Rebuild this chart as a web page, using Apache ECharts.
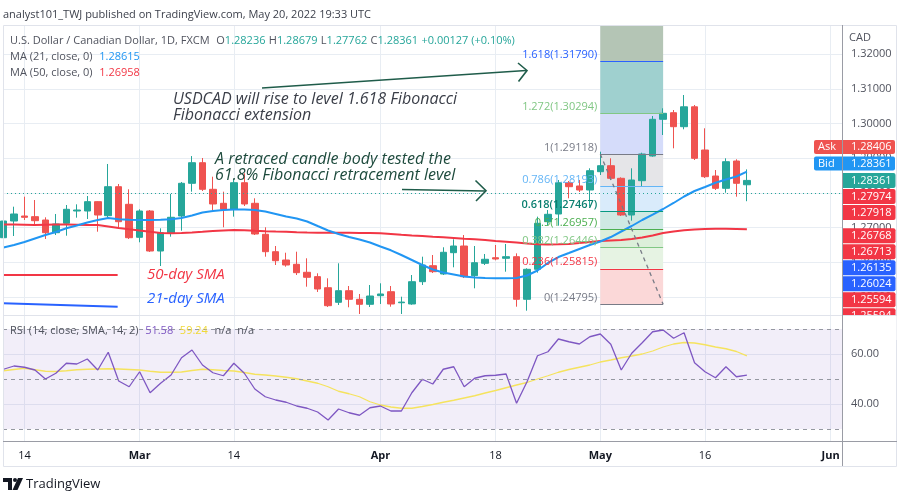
<!DOCTYPE html>
<html><head><meta charset="utf-8">
<script src="https://cdn.jsdelivr.net/npm/echarts@6/dist/echarts.min.js"></script>
<style>html,body{margin:0;padding:0;background:#fff}#c{width:900px;height:500px}</style>
</head><body><div id="c"></div>
<script>
// ---------------- DATA ----------------
const dates = ['Feb 10','Feb 11','Feb 14','Feb 15','Feb 16','Feb 17','Feb 18','Feb 21','Feb 22','Feb 23','Feb 24','Feb 25','Feb 28',
'Mar 1','Mar 2','Mar 3','Mar 4','Mar 7','Mar 8','Mar 9','Mar 10','Mar 11','Mar 14','Mar 15','Mar 16','Mar 17','Mar 18','Mar 21','Mar 22','Mar 23','Mar 24','Mar 25','Mar 28','Mar 29','Mar 30','Mar 31',
'Apr 1','Apr 4','Apr 5','Apr 6','Apr 7','Apr 8','Apr 11','Apr 12','Apr 13','Apr 14','Apr 15','Apr 18','Apr 19','Apr 20','Apr 21','Apr 22','Apr 25','Apr 26','Apr 27','Apr 28','Apr 29',
'May 2','May 3','May 4','May 5','May 6','May 9','May 10','May 11','May 12','May 13','May 16','May 17','May 18','May 19','May 20','May 23','May 24','May 25','May 26','May 27','May 30','May 31','Jun 1','Jun 2'];

// [open, high, low, close]
const ohlc = [
[1.26711,1.27336,1.26415,1.27192],[1.27192,1.27604,1.26760,1.27394],[1.27336,1.27892,1.27221,1.27298],[1.27317,1.27797,1.27077,1.27201],
[1.27221,1.27298,1.26674,1.26855],[1.26855,1.27394,1.26789,1.27106],[1.27126,1.27653,1.26769,1.27529],[1.27480,1.27672,1.27288,1.27509],
[1.27480,1.27912,1.27250,1.27749],[1.27749,1.27760,1.26884,1.27365],[1.27345,1.28834,1.27288,1.28180],[1.28180,1.28258,1.27011,1.27172],
[1.27673,1.28105,1.26674,1.26711],[1.26723,1.27529,1.26579,1.27480],[1.27480,1.27509,1.26300,1.26328],[1.26328,1.26982,1.25896,1.26855],
[1.26838,1.27970,1.26740,1.27299],[1.27336,1.28315,1.26913,1.28278],[1.28278,1.29062,1.28036,1.28871],[1.28871,1.29007,1.28056,1.28105],
[1.28105,1.28468,1.27509,1.27682],[1.27702,1.28036,1.27011,1.27529],[1.27529,1.28393,1.27317,1.28295],[1.28295,1.28566,1.27624,1.27682],
[1.27702,1.27846,1.26789,1.26818],[1.26809,1.27011,1.26164,1.26308],[1.26308,1.26472,1.25925,1.26049],[1.26069,1.26279,1.25876,1.25925],
[1.25945,1.26308,1.25637,1.25704],[1.25715,1.26118,1.25300,1.25571],[1.25590,1.25686,1.25148,1.25234],[1.25271,1.25542,1.24716,1.24753],
[1.24851,1.25974,1.24773,1.25185],[1.25185,1.25320,1.24707,1.24937],[1.24937,1.25090,1.24514,1.24793],[1.24793,1.25349,1.24716,1.25032],
[1.25041,1.25398,1.24802,1.25090],[1.25156,1.25320,1.24724,1.24802],[1.24838,1.25012,1.24514,1.24857],[1.24802,1.25637,1.24780,1.25444],
[1.25444,1.26164,1.25349,1.25925],[1.25905,1.26213,1.25694,1.25732],[1.25666,1.26435,1.25637,1.26291],[1.26280,1.26665,1.25859,1.26472],
[1.26472,1.26789,1.25550,1.25588],[1.25617,1.26472,1.25254,1.25991],[1.25974,1.26242,1.25925,1.26090],[1.26135,1.26501,1.26060,1.26098],
[1.26118,1.26530,1.25732,1.26164],[1.26164,1.26261,1.24724,1.24937],[1.24937,1.25830,1.24609,1.25801],[1.25801,1.27317,1.25704,1.27126],
[1.27172,1.27509,1.27077,1.27385],[1.27394,1.28373,1.27057,1.28295],[1.28295,1.28344,1.27846,1.28180],[1.28201,1.28373,1.28027,1.28085],
[1.28085,1.28710,1.27604,1.28641],[1.28612,1.29188,1.28517,1.28785],[1.28785,1.28998,1.28373,1.28422],[1.28422,1.28450,1.27336,1.27365],
[1.27365,1.28710,1.27201,1.28373],[1.28353,1.29159,1.28200,1.29122],[1.29064,1.30216,1.29044,1.30121],[1.30121,1.30438,1.29669,1.30294],
[1.30311,1.30389,1.29286,1.29908],[1.29908,1.30821,1.29833,1.30481],[1.30481,1.30533,1.28949,1.28998],[1.29237,1.29862,1.28431,1.28468],
[1.28488,1.28661,1.28085,1.28134],[1.28134,1.28998,1.28007,1.28900],[1.28920,1.28969,1.27892,1.28278],[1.28236,1.28679,1.27762,1.28361]];

const ma21 = [1.26429,1.26501,1.26587,1.26688,1.26789,1.26875,1.26982,1.27063,1.27149,1.27221,
1.27279,1.27241,1.27227,1.27221,1.27221,1.27227,1.27241,1.27279,1.27351,1.27437,
1.27480,1.27509,1.27523,1.27523,1.27509,1.27466,1.27394,1.27322,1.27264,1.27178,
1.27048,1.26919,1.26818,1.26731,1.26659,1.26573,1.26458,1.26348,1.26213,1.26069,
1.25925,1.25795,1.25709,1.25651,1.25593,1.25565,1.25550,1.25542,1.25542,1.25550,
1.25622,1.25767,1.25983,1.26155,1.26270,1.26386,1.26501,1.26602,1.26731,1.26890,
1.27048,1.27221,1.27379,1.27538,1.27711,1.27898,1.28056,1.28171,1.28295,1.28388,
1.28474,1.28615];

const ma50 = [1.27092,1.27089,1.27083,1.27077,1.27083,1.27089,1.27092,1.27086,1.27077,1.27077,
1.27034,1.26991,1.26953,1.26919,1.26881,1.26847,1.26838,1.26847,1.26861,1.26881,
1.26904,1.26919,1.26933,1.26925,1.26910,1.26898,1.26890,1.26884,1.26867,1.26858,
1.26855,1.26855,1.26855,1.26852,1.26849,1.26847,1.26838,1.26818,1.26795,1.26775,
1.26761,1.26740,1.26723,1.26703,1.26683,1.26665,1.26645,1.26616,1.26596,1.26573,
1.26544,1.26521,1.26515,1.26521,1.26530,1.26558,1.26587,1.26616,1.26631,1.26645,
1.26674,1.26717,1.26775,1.26847,1.26890,1.26925,1.26947,1.26962,1.26968,1.26968,
1.26965,1.26958];

const rsi = [53.9,55.2,54.7,53.6,50.0,52.3,56.3,56.0,58.0,53.6,
60.7,49.2,46.9,52.9,44.5,48.3,51.6,58.5,61.6,55.6,
52.5,51.3,56.3,52.3,46.0,42.9,41.6,40.7,39.2,38.3,
36.8,33.6,38.0,36.5,35.5,38.5,39.2,37.2,37.2,44.5,
49.9,48.0,53.9,54.9,46.9,50.3,51.3,51.5,52.0,40.3,
48.9,59.3,60.9,66.0,64.9,64.0,66.9,68.0,63.9,53.6,
60.3,64.5,68.9,69.6,66.3,68.5,56.5,52.9,50.5,54.9,
50.9,51.58];

const rsiMa = [53.3,53.8,54.3,53.7,53.1,53.0,53.3,53.7,53.9,54.0,
54.1,54.0,53.8,53.6,53.1,52.7,52.7,52.8,53.4,53.9,
53.7,53.4,53.2,52.6,51.9,51.6,51.2,50.7,50.1,49.2,
48.3,46.9,45.1,44.1,42.9,40.9,39.6,38.8,38.3,38.3,
39.0,39.8,40.7,41.5,42.4,43.3,44.4,45.4,46.5,47.6,
48.6,50.0,51.3,52.7,53.8,54.7,55.6,56.8,57.6,58.5,
59.2,60.0,61.2,62.8,64.0,64.6,64.4,63.7,62.8,62.1,
61.0,59.24];

const tickDates = ['Feb 14','Mar 1','Mar 14','Apr 1','Apr 18','May 2','May 16','Jun 1'];
const tickTexts = ['14','Mar','14','Apr','18','May','16','Jun'];
const priceTicks = [1.25,1.26,1.27,1.28,1.29,1.30,1.31,1.32];
const rsiTicks = [40,60];
const rsiLevels = [70,50,30];

const fibRatios = ['0','0.236','0.382','0.5','0.618','0.786','1','1.272','1.618'];
const fibPrices = [1.24795,1.25815,1.26446,1.26957,1.27467,1.28193,1.29118,1.30294,1.31790];
const fibFrom = 'May 2', fibTo = 'May 10';

const lastPrice = 1.28361, askPrice = 1.28406, bidPrice = 1.28361;
const tagValues = [1.27974,1.27918,1.26768,1.26713,1.26135,1.26024,1.25594,1.25594];
const tagKinds  = ['red','red','red','red','blue','blue','red','red'];

const maLegend = {ma21:'1.28615', ma50:'1.26958'};
const header = {o:'1.28236', h:'1.28679', l:'1.27762', c:'1.28361', chg:'+0.00127 (+0.10%)'};
const rsiLegend = {rsi:'51.58', ma:'59.24'};

// ---------------- STYLE / LAYOUT ----------------
const FONT = "'Open Sans', 'Noto Sans', sans-serif";
const gridColor = '#e8edf3';
const UP = '#26a69a', DOWN = '#ef5350';
const X0 = -0.05, X1 = 80.18;
const Y0 = 1.24485, Y1 = 1.32837;
const fibColors = ['#787b86','#f23645','#81c784','#4caf50','#089981','#64b5f6','#787b86','#81c784','#2962ff'];
const bandColors = ['#fbd8d8','#e6f3e3','#dcefda','#cfe9e3','#d9ebfb','#e5e5e8','#d5dcfa','#9fd0cf','#b4c5b5'];

const idx = d => dates.indexOf(d);
const tickIdx = tickDates.map(idx);
const fx0 = idx(fibFrom), fx1 = idx(fibTo);

const xFmt = v => {
  const k = tickIdx.indexOf(Math.round(v));
  if (k < 0) return '';
  const t = tickTexts[k];
  return /^\d+$/.test(t) ? t : '{m|' + t + '}';
};

const fibLines = fibPrices.map((p, k) => [
  {coord:[fx0, p], lineStyle:{color:fibColors[k], width:1, type:'solid'}},
  {coord:[fx1, p]}
]);
const fibBands = fibPrices.map((p, k) => [
  {coord:[fx0, p], itemStyle:{color:bandColors[k]}},
  {coord:[fx1, k < fibPrices.length - 1 ? fibPrices[k+1] : Y1]}
]);

const chart = echarts.init(document.getElementById('c'));

const option = {
  animation:false,
  backgroundColor:'#ffffff',
  textStyle:{fontFamily:FONT},
  grid:[{left:3, top:25, width:840, height:290},{left:3, top:315, width:840, height:126}],
  xAxis:[
    {type:'value', gridIndex:0, min:X0, max:X1, axisLine:{show:false},
     axisLabel:{show:false}, axisTick:{show:false, customValues:tickIdx},
     splitLine:{show:true, lineStyle:{color:gridColor, width:1}}},
    {type:'value', gridIndex:1, min:X0, max:X1, axisLine:{show:false},
     axisTick:{show:false, customValues:tickIdx},
     axisLabel:{customValues:tickIdx, formatter:xFmt, color:'#131722', fontSize:11, margin:9, fontFamily:FONT,
       rich:{m:{fontWeight:'bold', fontSize:11, color:'#131722', fontFamily:FONT}}},
     splitLine:{show:true, lineStyle:{color:gridColor, width:1}}}
  ],
  yAxis:[
    {type:'value', gridIndex:0, position:'right', min:Y0, max:Y1, scale:true,
     axisLine:{show:false}, axisTick:{show:false, customValues:priceTicks},
     axisLabel:{customValues:priceTicks, formatter:v => v.toFixed(5), color:'#50535e', fontSize:11, margin:8, fontFamily:FONT},
     splitLine:{show:true, lineStyle:{color:gridColor, width:1}}},
    {type:'value', gridIndex:1, position:'right', min:25.2, max:75.6,
     axisLine:{show:false}, axisTick:{show:false, customValues:rsiTicks},
     axisLabel:{customValues:rsiTicks, formatter:v => v.toFixed(2), color:'#50535e', fontSize:11, margin:8, fontFamily:FONT},
     splitLine:{show:true, lineStyle:{color:gridColor, width:1}}}
  ],
  series:[
    {type:'candlestick', xAxisIndex:0, yAxisIndex:0, barWidth:7,
     data: ohlc.map((r, i) => [i, r[0], r[3], r[2], r[1]]),
     encode:{x:0, y:[1,2,3,4]},
     itemStyle:{color:UP, color0:DOWN, borderColor:UP, borderColor0:DOWN, borderWidth:1},
     markArea:{silent:true, data:fibBands},
     markLine:{silent:true, symbol:['none','none'], label:{show:false}, animation:false,
       data:[
         {yAxis:lastPrice, lineStyle:{color:UP, type:[1,3], width:1}},
         ...fibLines,
         [{coord:[fx0, fibPrices[6]], lineStyle:{color:'#787b86', type:[4,4], width:1.3}}, {coord:[fx1, fibPrices[0]]}],
         [{coord:[X0, 1.25637], lineStyle:{color:'#f23645', type:'solid', width:2}}, {coord:[10.9, 1.25637]}],
         [{coord:[X0, 1.24822], lineStyle:{color:'#2962ff', type:'solid', width:2}}, {coord:[10.9, 1.24724]}]
       ]}
    },
    {type:'line', xAxisIndex:0, yAxisIndex:0, data:ma50.map((v,i)=>[i,v]), showSymbol:false,
     lineStyle:{color:'#f23645', width:2}, z:3},
    {type:'line', xAxisIndex:0, yAxisIndex:0, data:ma21.map((v,i)=>[i,v]), showSymbol:false,
     lineStyle:{color:'#2196f3', width:2}, z:3},
    {type:'line', xAxisIndex:1, yAxisIndex:1, data:rsiMa.map((v,i)=>[i,v]), showSymbol:false,
     lineStyle:{color:'#f5e35e', width:1.3}, z:3},
    {type:'line', xAxisIndex:1, yAxisIndex:1, data:rsi.map((v,i)=>[i,v]), showSymbol:false,
     lineStyle:{color:'#7e57c2', width:1.3}, z:4,
     markArea:{silent:true, itemStyle:{color:'rgba(126,87,194,0.1)'}, data:[[{yAxis:rsiLevels[0]},{yAxis:rsiLevels[2]}]]},
     markLine:{silent:true, symbol:['none','none'], label:{show:false},
       lineStyle:{color:'#9598a1', type:[4,4], width:1},
       data:rsiLevels.map(v => ({yAxis:v}))}
    }
  ]
};
chart.setOption(option);

// ---------------- OVERLAYS ----------------
const P = (x, y) => chart.convertToPixel({xAxisIndex:0, yAxisIndex:0}, [x, y]);
const g = [];
const txt = (x, y, text, fill, size, extra) => g.push(Object.assign({type:'text', z:50, silent:true,
  style:Object.assign({x, y, text, fill, font:`${size}px ${FONT}`, textVerticalAlign:'middle'}, extra || {})}));

// frame
g.push({type:'rect', z:40, silent:true, shape:{x:3.5, y:25.5, width:893, height:441}, style:{fill:'none', stroke:'#e0e3eb', lineWidth:1}});
g.push({type:'line', z:40, silent:true, shape:{x1:3, y1:315.5, x2:897, y2:315.5}, style:{stroke:'#e0e3eb', lineWidth:1}});
g.push({type:'line', z:60, silent:true, shape:{x1:3, y1:441.5, x2:897, y2:441.5}, style:{stroke:'#9a9ca5', lineWidth:1}});

// header
txt(3, 15, 'analyst101_TWJ published on TradingView.com, May 20, 2022 19:33 UTC', '#3b3f4a', 11);
g.push({type:'text', z:50, silent:true, style:{x:10, y:41, textVerticalAlign:'middle',
  text:`{g|U.S. Dollar / Canadian Dollar, 1D, FXCM}  {g|O}{t|${header.o}} {g|H}{t|${header.h}} {g|L}{t|${header.l}} {g|C}{t|${header.c}} {t|${header.chg}}`,
  rich:{g:{fill:'#50535e', font:`11px ${FONT}`}, t:{fill:'#26a69a', font:`11px ${FONT}`}}}});
g.push({type:'text', z:50, silent:true, style:{x:10, y:57, textVerticalAlign:'middle',
  text:`{g|MA (21, close, 0)}  {b|${maLegend.ma21}}`,
  rich:{g:{fill:'#50535e', font:`11px ${FONT}`}, b:{fill:'#2196f3', font:`11px ${FONT}`}}}});
g.push({type:'text', z:50, silent:true, style:{x:10, y:73, textVerticalAlign:'middle',
  text:`{g|MA (50, close, 0)}  {r|${maLegend.ma50}}`,
  rich:{g:{fill:'#50535e', font:`11px ${FONT}`}, r:{fill:'#f23645', font:`11px ${FONT}`}}}});
g.push({type:'text', z:50, silent:true, style:{x:10, y:331, textVerticalAlign:'middle',
  text:`{g|RSI (14, close, SMA, 14, 2)}  {p|${rsiLegend.rsi}}  {y|${rsiLegend.ma}}  {g|n/a  n/a}`,
  rich:{g:{fill:'#50535e', font:`11px ${FONT}`}, p:{fill:'#7e57c2', font:`11px ${FONT}`}, y:{fill:'#f0d93a', font:`11px ${FONT}`}}}});

// annotations
const italic = s => `italic ${s}px ${FONT}`;
g.push({type:'text', z:50, silent:true, style:{x:173, y:99, text:'USDCAD will rise to level 1.618 Fibonacci', fill:'#3a3e48', font:italic(16), textVerticalAlign:'middle'}});
g.push({type:'text', z:50, silent:true, style:{x:173, y:115, text:'Fibonacci extension', fill:'#3a3e48', font:italic(16), textVerticalAlign:'middle'}});
g.push({type:'text', z:50, silent:true, style:{x:215, y:159, text:'A retraced candle body tested the', fill:'#1d4a3c', font:italic(16), textVerticalAlign:'middle'}});
g.push({type:'text', z:50, silent:true, style:{x:215, y:175, text:'61.8% Fibonacci retracement level', fill:'#1d4a3c', font:italic(16), textVerticalAlign:'middle'}});
g.push({type:'text', z:50, silent:true, style:{x:147, y:275, text:'50-day SMA', fill:'#f23645', font:italic(15), textVerticalAlign:'middle'}});
g.push({type:'text', z:50, silent:true, style:{x:147, y:299, text:'21-day SMA', fill:'#2962ff', font:italic(15), textVerticalAlign:'middle'}});

// arrows
const arrowC = '#1f5c4a';
g.push({type:'line', z:50, silent:true, shape:{x1:262, y1:88, x2:526, y2:70.5}, style:{stroke:arrowC, lineWidth:1.6}});
g.push({type:'polyline', z:50, silent:true, shape:{points:[[518,63],[527,70.5],[518.5,81.5]]}, style:{stroke:arrowC, lineWidth:1.6, fill:'none'}});
g.push({type:'line', z:50, silent:true, shape:{x1:402, y1:189.5, x2:485, y2:191}, style:{stroke:arrowC, lineWidth:1.6}});
g.push({type:'polyline', z:50, silent:true, shape:{points:[[475.5,180.5],[486,190.8],[476,201]]}, style:{stroke:arrowC, lineWidth:1.6, fill:'none'}});

// fib labels
fibPrices.forEach((p, k) => {
  const [px, py] = P(fx0, p);
  g.push({type:'text', z:45, silent:true, style:{x:px - 3, y:py - 1, text:`${fibRatios[k]}(${p.toFixed(5)})`,
    fill: k === 4 ? '#0b7f70' : fibColors[k], font:`${k === 4 ? '600 ' : ''}11px ${FONT}`, textAlign:'right', textVerticalAlign:'bottom'}});
});

// right-axis header
txt(849, 38, 'CAD', '#50535e', 11);

// price tags
const tagColor = {red:'#f23645', blue:'#2962ff'};
const tagH = 15, step = 16;
const lastY = P(0, lastPrice)[1];
const drawTag = (cy, value, color) => {
  g.push({type:'rect', z:70, silent:true, shape:{x:842.5, y:cy - tagH/2, width:53, height:tagH, r:[0,2,2,0]}, style:{fill:color}});
  g.push({type:'text', z:71, silent:true, style:{x:851, y:cy, text:value.toFixed(5), fill:'#ffffff', font:`11px ${FONT}`, textVerticalAlign:'middle'}});
};
drawTag(lastY, lastPrice, UP);
let prevY = lastY;
tagValues.forEach((v, k) => {
  const y = Math.max(P(0, v)[1], prevY + step);
  drawTag(y, v, tagColor[tagKinds[k]]);
  prevY = y;
});
// ask / bid
const bidY = lastY - 17, askY = bidY - 16.5;
[[askY, 'Ask', askPrice, '#ef5350'], [bidY, 'Bid', bidPrice, '#2196f3']].forEach(([y, name, v, c]) => {
  g.push({type:'rect', z:70, silent:true, shape:{x:814, y:y - 7, width:81, height:14, r:2}, style:{fill:c}});
  g.push({type:'text', z:71, silent:true, style:{x:818, y:y, text:name, fill:'#fff', font:`11px ${FONT}`, textVerticalAlign:'middle'}});
  g.push({type:'text', z:71, silent:true, style:{x:851, y:y, text:v.toFixed(5), fill:'#fff', font:`11px ${FONT}`, textVerticalAlign:'middle'}});
});
// clip tags to the price pane
g.push({type:'rect', z:75, silent:true, shape:{x:843, y:316, width:53.5, height:24}, style:{fill:'#ffffff'}});
g.push({type:'line', z:76, silent:true, shape:{x1:3, y1:315.5, x2:897, y2:315.5}, style:{stroke:'#e0e3eb', lineWidth:1}});
g.push({type:'line', z:77, silent:true, shape:{x1:842.5, y1:25, x2:842.5, y2:466}, style:{stroke:'#9a9ca5', lineWidth:1}});

// logo
g.push({type:'polygon', z:50, silent:true, shape:{points:[[3,478],[12,478],[12,490],[8,490],[8,482],[3,482]]}, style:{fill:'#131722'}});
g.push({type:'circle', z:50, silent:true, shape:{cx:15, cy:480, r:2}, style:{fill:'#131722'}});
g.push({type:'polygon', z:50, silent:true, shape:{points:[[18,478],[23,478],[17.5,490],[12.5,490]]}, style:{fill:'#131722'}});
txt(26, 484, 'TradingView', '#131722', 13);

chart.setOption({graphic:{elements:g}});
</script>
</body></html>
